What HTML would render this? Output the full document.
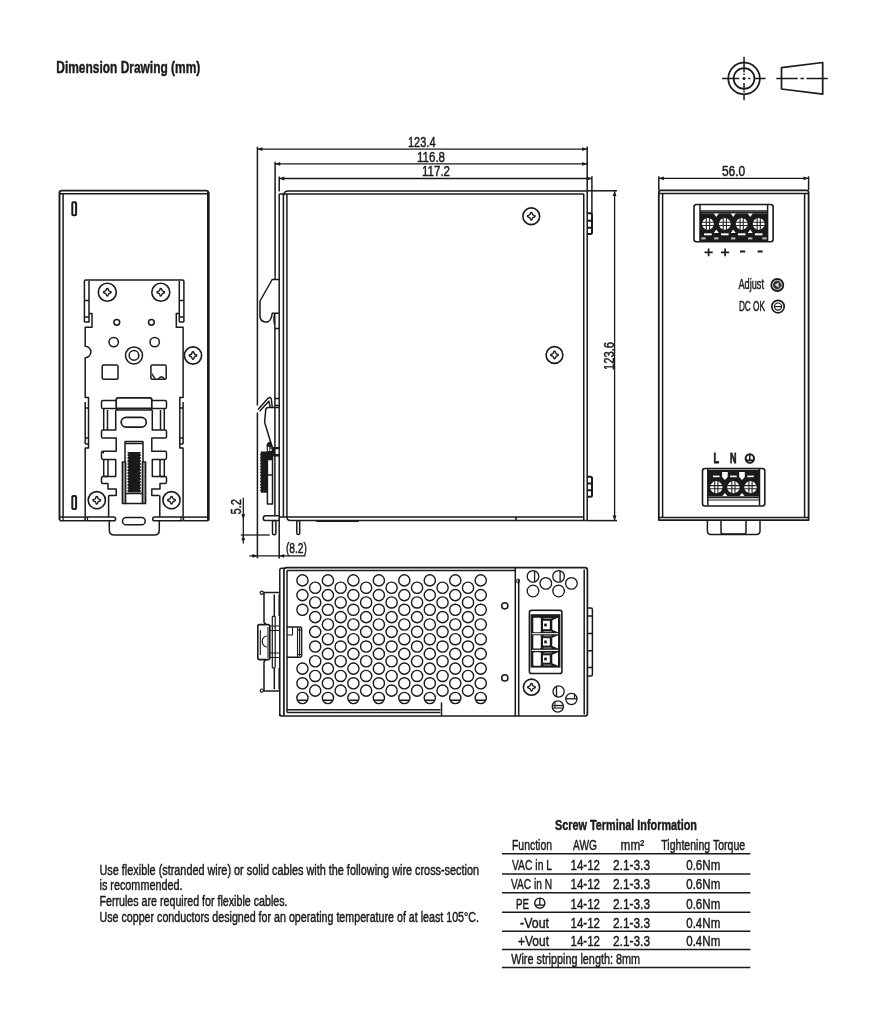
<!DOCTYPE html>
<html><head><meta charset="utf-8"><style>
html,body{margin:0;padding:0;background:#fff;}
svg{display:block;filter:grayscale(100%);}
text{font-family:"Liberation Sans",sans-serif;fill:#1a1a1a;stroke:#1a1a1a;stroke-width:0.45px;}
.f{fill:#1a1a1a;stroke:none;}
</style></head><body>
<svg width="884" height="1024" viewBox="0 0 884 1024">
<g fill="none" stroke="#1a1a1a" stroke-width="1.5" stroke-linejoin="round" stroke-linecap="butt">
<text x="56.3" y="73.1" font-size="15.8" textLength="144" lengthAdjust="spacingAndGlyphs" font-weight="bold" text-anchor="start" >Dimension Drawing (mm)</text>
<circle cx="744.05" cy="78.5" r="15.8" stroke-width="1.7"/>
<circle cx="744.05" cy="78.5" r="10.4" stroke-width="1.7"/>
<line x1="722.1" y1="78.5" x2="739.3" y2="78.5" stroke-width="1.5" />
<line x1="742.5" y1="78.5" x2="745.6" y2="78.5" stroke-width="1.6" />
<line x1="748.2" y1="78.5" x2="750.2" y2="78.5" stroke-width="1.5" />
<line x1="754.5" y1="78.5" x2="765.6" y2="78.5" stroke-width="1.5" />
<line x1="744.05" y1="56.8" x2="744.05" y2="72.3" stroke-width="1.5" />
<line x1="744.05" y1="73.5" x2="744.05" y2="75" stroke-width="1.5" />
<line x1="744.05" y1="77" x2="744.05" y2="80" stroke-width="1.6" />
<line x1="744.05" y1="83" x2="744.05" y2="89.5" stroke-width="1.5" />
<line x1="744.05" y1="90.6" x2="744.05" y2="92.5" stroke-width="1.5" />
<line x1="744.05" y1="94.5" x2="744.05" y2="100.2" stroke-width="1.5" />
<path d="M781.5 67.7 L822.7 62.5 L822.7 94.2 L781.5 89 Z" stroke-width="1.7"/>
<line x1="776.3" y1="78.5" x2="797.7" y2="78.5" stroke-width="1.5" />
<line x1="800.5" y1="78.5" x2="804" y2="78.5" stroke-width="1.5" />
<line x1="806.4" y1="78.5" x2="827.8" y2="78.5" stroke-width="1.5" />
<path d="M59.5 520 L59.5 192.8 Q59.5 190.6 61.7 190.6 L206.1 190.6 Q208.3 190.6 208.3 192.8 L208.3 520" stroke-width="1.9"/>
<line x1="208.3" y1="192" x2="208.3" y2="520.7" stroke-width="2.5" />
<line x1="59.5" y1="193.7" x2="208.3" y2="193.7" />
<line x1="63.1" y1="193.7" x2="63.1" y2="517.1" />
<line x1="59.5" y1="517.1" x2="85" y2="517.1" />
<line x1="59.5" y1="520.7" x2="85" y2="520.7" />
<line x1="183.5" y1="517.1" x2="208.3" y2="517.1" />
<line x1="183.5" y1="520.7" x2="208.3" y2="520.7" />
<rect x="85" y="517.1" width="30.6" height="3.6" rx="1.8" />
<rect x="152.7" y="517.1" width="30.8" height="3.6" rx="1.8" />
<line x1="87.5" y1="517.1" x2="87.5" y2="520.7" stroke-width="1.2" />
<line x1="181" y1="517.1" x2="181" y2="520.7" stroke-width="1.2" />
<rect x="72.3" y="202.3" width="3.8" height="12.9" rx="1" stroke-width="2"/>
<rect x="72.3" y="496" width="3.8" height="12.9" rx="1" stroke-width="2"/>
<path d="M84.4 322 L84.4 281.2 Q84.4 280 85.6 280 L182.7 280 Q183.9 280 183.9 281.2 L183.9 322" />
<path d="M84.4 322 L89 322 L89 281 M84.4 300.5 L89 300.5 M84.4 317 L89 317" />
<path d="M89 313.5 L92 313.5 L92 327.2 L85.2 327.2 L85.2 346.3 A5.7 5.7 0 0 1 85.2 357.7 L85.2 397.5 L88.5 397.5 L88.5 402 M85.2 402 L85.2 444 M88.5 402 L88.5 444 M85.2 408 L88.5 408 M85.2 438 L88.5 438 M85.2 444 L88.5 444 L88.5 448 L85.2 448 L85.2 517.1" />
<path d="M179.3 322 L183.9 322 M179.3 281 L179.3 322 M179.3 300.5 L183.9 300.5 M179.3 317 L183.9 317" />
<path d="M179.3 313.5 L176.3 313.5 L176.3 327.2 L183.1 327.2 L183.1 397.5 L179.8 397.5 L179.8 402 M183.1 402 L183.1 444 M179.8 402 L179.8 444 M183.1 408 L179.8 408 M183.1 438 L179.8 438 M183.1 444 L179.8 444 L179.8 448 L183.1 448 L183.1 517.1" />
<circle cx="107.3" cy="292.2" r="9" stroke-width="1.6"/>
<path d="M104.25 292.95 A0.75 0.75 0 0 1 104.25 291.45 Q106.3 291.2 106.55 289.15 A0.75 0.75 0 0 1 108.05 289.15 Q108.3 291.2 110.35 291.45 A0.75 0.75 0 0 1 110.35 292.95 Q108.3 293.2 108.05 295.25 A0.75 0.75 0 0 1 106.55 295.25 Q106.3 293.2 104.25 292.95 Z" stroke-width="1.4"/>
<circle cx="160.8" cy="292.2" r="9" stroke-width="1.6"/>
<path d="M157.75 292.95 A0.75 0.75 0 0 1 157.75 291.45 Q159.8 291.2 160.05 289.15 A0.75 0.75 0 0 1 161.55 289.15 Q161.8 291.2 163.85 291.45 A0.75 0.75 0 0 1 163.85 292.95 Q161.8 293.2 161.55 295.25 A0.75 0.75 0 0 1 160.05 295.25 Q159.8 293.2 157.75 292.95 Z" stroke-width="1.4"/>
<circle cx="116.8" cy="322.3" r="2.9" />
<circle cx="151.4" cy="322.3" r="2.9" />
<circle cx="113.7" cy="342.1" r="4.7" />
<circle cx="154.7" cy="342.1" r="4.7" />
<circle cx="134" cy="355.4" r="8.5" />
<circle cx="134" cy="355.4" r="4.8" />
<rect x="102.2" y="365" width="15.8" height="14.3" rx="1.5" />
<rect x="150.9" y="365" width="15.3" height="14.3" rx="1.5" />
<path d="M151.5 372 Q152 378.5 156 379 Z" class="f"/>
<path d="M158.5 379 Q161.5 374.5 164.5 379" stroke-width="1.4"/>
<circle cx="193" cy="355.5" r="8.6" stroke-width="1.6"/>
<path d="M189.95 356.25 A0.75 0.75 0 0 1 189.95 354.75 Q192 354.5 192.25 352.45 A0.75 0.75 0 0 1 193.75 352.45 Q194 354.5 196.05 354.75 A0.75 0.75 0 0 1 196.05 356.25 Q194 356.5 193.75 358.55 A0.75 0.75 0 0 1 192.25 358.55 Q192 356.5 189.95 356.25 Z" stroke-width="1.4"/>
<rect x="116.2" y="397.8" width="35.6" height="12.2" rx="2" stroke-width="1.7"/>
<line x1="117" y1="408.3" x2="151" y2="408.3" />
<path d="M116.2 400.4 L103 400.4 Q101.5 400.4 101.5 402 L101.5 407 Q101.5 408.6 103 408.6 L116.2 408.6" />
<path d="M151.8 400.4 L165 400.4 Q166.5 400.4 166.5 402 L166.5 407 Q166.5 408.6 165 408.6 L151.8 408.6" />
<path d="M103.7 408.6 L103.7 429.9 M107.5 410 L107.5 429.9 M115.7 410 L115.7 429.9" />
<path d="M164.3 408.6 L164.3 429.9 M160.5 410 L160.5 429.9 M152.3 410 L152.3 429.9" />
<path d="M116.2 429.9 L103 429.9 Q101.5 429.9 101.5 431.5 L101.5 436.5 Q101.5 438.1 103 438.1 L116.2 438.1 L116.2 451.2 L103 451.2 Q101.5 451.2 101.5 452.8 L101.5 457.8 Q101.5 459.4 103 459.4 L116.2 459.4" />
<path d="M151.8 429.9 L165 429.9 Q166.5 429.9 166.5 431.5 L166.5 436.5 Q166.5 438.1 165 438.1 L151.8 438.1 L151.8 451.2 L165 451.2 Q166.5 451.2 166.5 452.8 L166.5 457.8 Q166.5 459.4 165 459.4 L151.8 459.4" />
<path d="M103.7 459.4 L103.7 476.4 M108 459.4 L108 476.4 M115.7 459.4 L115.7 476.4 L103.7 476.4" />
<path d="M164.3 459.4 L164.3 476.4 M160 459.4 L160 476.4 M152.3 459.4 L152.3 476.4 L164.3 476.4" />
<path d="M108 476.4 L103 476.4 Q101.5 476.4 101.5 478 L101.5 482 Q101.5 483.5 103 483.5 L108 483.5 L108 489 L116.2 489 L116.2 495.5 L108.6 495.5" />
<path d="M160 476.4 L165 476.4 Q166.5 476.4 166.5 478 L166.5 482 Q166.5 483.5 165 483.5 L160 483.5 L160 489 L151.8 489 L151.8 495.5 L159.4 495.5" />
<path d="M101.8 452 L104 451.2 L104 454 Z" class="f"/>
<rect x="121.2" y="417.3" width="25.1" height="9.9" rx="4.9" stroke-width="1.7"/>
<rect x="125" y="441.6" width="18" height="62" rx="0.5" />
<line x1="125" y1="443.5" x2="143" y2="443.5" />
<rect x="122.4" y="462" width="3.2" height="41.5" rx="0" fill="#999"/>
<rect x="142.4" y="462" width="3.2" height="41.5" rx="0" fill="#999"/>
<path d="M127 452 L128.6 453.5 L127 455 L128.6 456.5 L127 458 L128.6 459.5 L127 461 L128.6 462.5 L127 464 L128.6 465.5 L127 467 L128.6 468.5 L127 470 L128.6 471.5 L127 473 L128.6 474.5 L127 476 L128.6 477.5 L127 479 L128.6 480.5 L127 482 L128.6 483.5 L127 485 L128.6 486.5 L127 488 L128.6 489.5 L127 491 L128.6 492.5 L139.7 492.5 L141.3 491 L139.7 489.5 L141.3 488 L139.7 486.5 L141.3 485 L139.7 483.5 L141.3 482 L139.7 480.5 L141.3 479 L139.7 477.5 L141.3 476 L139.7 474.5 L141.3 473 L139.7 471.5 L141.3 470 L139.7 468.5 L141.3 467 L139.7 465.5 L141.3 464 L139.7 462.5 L141.3 461 L139.7 459.5 L141.3 458 L139.7 456.5 L141.3 455 L139.7 453.5 L141.3 452 Z" class="f"/>
<line x1="125" y1="493.5" x2="143" y2="493.5" />
<circle cx="96.8" cy="500.2" r="8.6" stroke-width="1.6"/>
<path d="M93.75 500.95 A0.75 0.75 0 0 1 93.75 499.45 Q95.8 499.2 96.05 497.15 A0.75 0.75 0 0 1 97.55 497.15 Q97.8 499.2 99.85 499.45 A0.75 0.75 0 0 1 99.85 500.95 Q97.8 501.2 97.55 503.25 A0.75 0.75 0 0 1 96.05 503.25 Q95.8 501.2 93.75 500.95 Z" stroke-width="1.4"/>
<circle cx="171.5" cy="500.2" r="8.6" stroke-width="1.6"/>
<path d="M168.45 500.95 A0.75 0.75 0 0 1 168.45 499.45 Q170.5 499.2 170.75 497.15 A0.75 0.75 0 0 1 172.25 497.15 Q172.5 499.2 174.55 499.45 A0.75 0.75 0 0 1 174.55 500.95 Q172.5 501.2 172.25 503.25 A0.75 0.75 0 0 1 170.75 503.25 Q170.5 501.2 168.45 500.95 Z" stroke-width="1.4"/>
<path d="M108.6 495.5 L108.6 517.1 M109.3 520.7 L109.3 530 Q109.3 535 114.3 535 L154.3 535 Q159.3 535 159.3 530 L159.3 520.7 M159.8 495.5 L159.8 517.1" />
<rect x="122.5" y="517.6" width="22.7" height="7.2" rx="3.6" />
<line x1="63.1" y1="517.1" x2="63.1" y2="520.7" stroke-width="1.2" />
<line x1="257.4" y1="146.8" x2="257.4" y2="405.5" />
<line x1="257.4" y1="412.5" x2="257.4" y2="558.4" />
<line x1="275.1" y1="161.7" x2="275.1" y2="276.6" />
<line x1="587.2" y1="146.5" x2="587.2" y2="520.6" />
<line x1="279.2" y1="176.6" x2="279.2" y2="191.6" />
<line x1="591.9" y1="176.3" x2="591.9" y2="213.2" />
<line x1="257.4" y1="149.1" x2="587.2" y2="149.1" stroke-width="1.3" />
<path d="M257.5 149.1 L262.5 147.2 L262.5 151 Z" class="f"/>
<path d="M587.1 149.1 L582.1 151 L582.1 147.2 Z" class="f"/>
<line x1="275.1" y1="163.9" x2="587.2" y2="163.9" stroke-width="1.3" />
<path d="M275.2 163.9 L280.2 162 L280.2 165.8 Z" class="f"/>
<path d="M587.1 163.9 L582.1 165.8 L582.1 162 Z" class="f"/>
<line x1="279.2" y1="178.5" x2="591.9" y2="178.5" stroke-width="1.3" />
<path d="M279.3 178.5 L284.3 176.6 L284.3 180.4 Z" class="f"/>
<path d="M591.8 178.5 L586.8 180.4 L586.8 176.6 Z" class="f"/>
<text x="435.5" y="146.7" font-size="14" textLength="27.5" lengthAdjust="spacingAndGlyphs" text-anchor="end" >123.4</text>
<text x="445" y="161.5" font-size="14" textLength="28" lengthAdjust="spacingAndGlyphs" text-anchor="end" >116.8</text>
<text x="450" y="175.5" font-size="14" textLength="28" lengthAdjust="spacingAndGlyphs" text-anchor="end" >117.2</text>
<line x1="587.2" y1="190.8" x2="617" y2="190.8" />
<line x1="587.2" y1="520.6" x2="617" y2="520.6" />
<line x1="614.6" y1="190.8" x2="614.6" y2="520.6" stroke-width="1.3" />
<path d="M614.6 191 L616.5 196 L612.7 196 Z" class="f"/>
<path d="M614.6 520.4 L612.7 515.4 L616.5 515.4 Z" class="f"/>
<text x="0" y="0" font-size="14" textLength="28" lengthAdjust="spacingAndGlyphs" text-anchor="middle" transform="translate(613.8 356) rotate(-90)">123.6</text>
<path d="M283.5 196 Q283.5 191 288.5 191 L587.2 191" />
<line x1="279.2" y1="194" x2="583.75" y2="194" />
<line x1="279.2" y1="194" x2="279.2" y2="558.4" />
<line x1="283.4" y1="194" x2="283.4" y2="517.1" />
<line x1="286.9" y1="194" x2="286.9" y2="517.1" />
<line x1="583.75" y1="194" x2="583.75" y2="520.6" />
<line x1="279.2" y1="517.1" x2="583.75" y2="517.1" />
<path d="M286.9 517.1 Q286.9 520.6 290.4 520.6 L587.2 520.6" />
<line x1="316.3" y1="521" x2="358.8" y2="521" stroke-width="2.2" />
<line x1="516" y1="517.1" x2="516" y2="520.6" stroke-width="1.6" />
<path d="M587.2 213.2 L590.5 213.2 Q592 213.2 592 214.7 L592 232.6 Q592 234.1 590.5 234.1 L587.2 234.1 M587.2 220.7 L592 220.7 M587.2 227.7 L592 227.7" stroke-width="2"/>
<path d="M587.2 476.8 L590.5 476.8 Q592 476.8 592 478.3 L592 495.3 Q592 496.8 590.5 496.8 L587.2 496.8 M587.2 483.5 L592 483.5 M587.2 490.2 L592 490.2" stroke-width="2"/>
<circle cx="531.25" cy="216.25" r="8.4" stroke-width="1.6"/>
<path d="M528.2 217 A0.75 0.75 0 0 1 528.2 215.5 Q530.25 215.25 530.5 213.2 A0.75 0.75 0 0 1 532 213.2 Q532.25 215.25 534.3 215.5 A0.75 0.75 0 0 1 534.3 217 Q532.25 217.25 532 219.3 A0.75 0.75 0 0 1 530.5 219.3 Q530.25 217.25 528.2 217 Z" stroke-width="1.4"/>
<circle cx="554.5" cy="355" r="8.4" stroke-width="1.6"/>
<path d="M551.45 355.75 A0.75 0.75 0 0 1 551.45 354.25 Q553.5 354 553.75 351.95 A0.75 0.75 0 0 1 555.25 351.95 Q555.5 354 557.55 354.25 A0.75 0.75 0 0 1 557.55 355.75 Q555.5 356 555.25 358.05 A0.75 0.75 0 0 1 553.75 358.05 Q553.5 356 551.45 355.75 Z" stroke-width="1.4"/>
<path d="M279.2 279.5 L272.2 279.5 L260 301 L260 317 Q261 322.5 267.3 322 Q271.5 320.5 272.2 313.2 L279.2 313.2" />
<path d="M274.7 313.2 L274.9 328.4 L279.2 328.4 M274.9 313.2 Q273 318 274.9 326" />
<line x1="275.1" y1="276.6" x2="275.1" y2="279.5" />
<line x1="274.9" y1="328.4" x2="274.9" y2="515.7" />
<path d="M258 409.5 L268 398.3 Q270.3 396.5 271.3 399 L272.3 407.6 M259.6 411.2 L268.8 401.2 L270.3 407.6" />
<path d="M279 407.6 L268 407.6 Q265.6 408 265.6 411 L264.6 422.2 L271 443.2 L271 449" />
<path d="M274.9 398.5 L279.2 398.5 M274.9 405.5 L279.2 405.5" />
<path d="M272.6 448.1 L279.2 448.1 M272.6 455.3 L279.2 455.3" stroke-width="2.4"/>
<path d="M266.3 446.3 Q266.8 442 269.9 441.6 Q272.3 442.5 272.6 446.3 Z" class="f"/>
<rect x="267.3" y="446.3" width="5.1" height="5.3" rx="0" stroke-width="1.1"/>
<line x1="269.8" y1="446.3" x2="269.8" y2="451.6" stroke-width="0.9" />
<path d="M260.8 451.6 L272.6 451.6 L272.6 459.4 L267.6 459.4 L267.6 492.7 L261 492.7 Z" class="f"/>
<line x1="273.8" y1="449" x2="273.8" y2="455" stroke-width="2.2" />
<path d="M261 453 L260 454.5 L261 456 Z" class="f"/>
<path d="M261 456 L260 457.5 L261 459 Z" class="f"/>
<path d="M261 459 L260 460.5 L261 462 Z" class="f"/>
<path d="M261 462 L260 463.5 L261 465 Z" class="f"/>
<path d="M261 465 L260 466.5 L261 468 Z" class="f"/>
<path d="M261 468 L260 469.5 L261 471 Z" class="f"/>
<path d="M261 471 L260 472.5 L261 474 Z" class="f"/>
<path d="M261 474 L260 475.5 L261 477 Z" class="f"/>
<path d="M261 477 L260 478.5 L261 480 Z" class="f"/>
<path d="M261 480 L260 481.5 L261 483 Z" class="f"/>
<path d="M261 483 L260 484.5 L261 486 Z" class="f"/>
<path d="M261 486 L260 487.5 L261 489 Z" class="f"/>
<path d="M261 489 L260 490.5 L261 492 Z" class="f"/>
<rect x="267.4" y="459.5" width="5.1" height="44.5" rx="0" />
<line x1="267.4" y1="475" x2="272.5" y2="475" />
<line x1="272.5" y1="449" x2="272.5" y2="459.5" />
<path d="M265.7 515.7 L279.3 515.7 M265.7 520.6 L279.3 520.6 M265.7 515.7 A2.45 2.45 0 0 0 265.7 520.6" />
<rect x="272.5" y="520.6" width="3.4" height="14.1" rx="1.5" />
<rect x="296.8" y="520.6" width="2.9" height="14" rx="1.4" />
<line x1="243.3" y1="497.8" x2="243.3" y2="543.6" stroke-width="1.3" />
<line x1="240.8" y1="535" x2="269.8" y2="535" stroke-width="1.3" />
<path d="M243.3 519.3 L241.4 514.3 L245.2 514.3 Z" class="f"/>
<path d="M243.3 535.2 L245.2 540.2 L241.4 540.2 Z" class="f"/>
<text x="0" y="0" font-size="14" textLength="15.5" lengthAdjust="spacingAndGlyphs" text-anchor="middle" transform="translate(240.8 506.7) rotate(-90)">5.2</text>
<line x1="249.4" y1="555.9" x2="305.4" y2="555.9" stroke-width="1.3" />
<path d="M257.4 555.9 L252.4 557.8 L252.4 554 Z" class="f"/>
<path d="M279.3 555.9 L284.3 554 L284.3 557.8 Z" class="f"/>
<text x="285.9" y="553.3" font-size="14" textLength="21.1" lengthAdjust="spacingAndGlyphs" text-anchor="start" >(8.2)</text>
<line x1="658.8" y1="176.3" x2="658.8" y2="190" />
<line x1="808.6" y1="176.3" x2="808.6" y2="190" />
<line x1="658.8" y1="178.3" x2="808.6" y2="178.3" stroke-width="1.3" />
<path d="M658.9 178.3 L663.9 176.4 L663.9 180.2 Z" class="f"/>
<path d="M808.5 178.3 L803.5 180.2 L803.5 176.4 Z" class="f"/>
<text x="745.2" y="175.6" font-size="14" textLength="23.3" lengthAdjust="spacingAndGlyphs" text-anchor="end" >56.0</text>
<path d="M658.8 520.1 L658.8 192.3 Q658.8 190.3 660.8 190.3 L806.6 190.3 Q808.6 190.3 808.6 192.3 L808.6 520.1 Z" stroke-width="1.8"/>
<line x1="658.8" y1="193.4" x2="808.6" y2="193.4" />
<line x1="662.6" y1="193.4" x2="662.6" y2="517.4" />
<line x1="804.6" y1="193.4" x2="804.6" y2="517.4" />
<line x1="658.8" y1="517.4" x2="808.6" y2="517.4" />
<rect x="694" y="204.5" width="79.1" height="37.3" rx="2.5" stroke-width="1.6"/>
<line x1="700" y1="205" x2="700" y2="241.5" />
<line x1="767.6" y1="205" x2="767.6" y2="241.5" />
<line x1="700" y1="211" x2="767.6" y2="211" stroke-width="1.3" />
<line x1="700" y1="212.6" x2="767.6" y2="212.6" stroke-width="1.3" />
<rect x="700" y="213.3" width="67.6" height="27.8" rx="0" class="f"/>
<circle cx="707.9" cy="223.9" r="5.9" fill="#fff" stroke="none"/>
<path d="M702 222.3 L713.8 222.3 M702 225.5 L713.8 225.5 M706.3 218 L706.3 229.8 M709.5 218 L709.5 229.8" stroke-width="1.1" stroke="#222"/>
<rect x="704.1" y="233.3" width="7.6" height="2" rx="0" fill="#fff" stroke="none"/>
<circle cx="724.8" cy="223.9" r="5.9" fill="#fff" stroke="none"/>
<path d="M718.9 222.3 L730.7 222.3 M718.9 225.5 L730.7 225.5 M723.2 218 L723.2 229.8 M726.4 218 L726.4 229.8" stroke-width="1.1" stroke="#222"/>
<rect x="721" y="233.3" width="7.6" height="2" rx="0" fill="#fff" stroke="none"/>
<circle cx="741.7" cy="223.9" r="5.9" fill="#fff" stroke="none"/>
<path d="M735.8 222.3 L747.6 222.3 M735.8 225.5 L747.6 225.5 M740.1 218 L740.1 229.8 M743.3 218 L743.3 229.8" stroke-width="1.1" stroke="#222"/>
<rect x="737.9" y="233.3" width="7.6" height="2" rx="0" fill="#fff" stroke="none"/>
<circle cx="758.7" cy="223.9" r="5.9" fill="#fff" stroke="none"/>
<path d="M752.8 222.3 L764.6 222.3 M752.8 225.5 L764.6 225.5 M757.1 218 L757.1 229.8 M760.3 218 L760.3 229.8" stroke-width="1.1" stroke="#222"/>
<rect x="754.9" y="233.3" width="7.6" height="2" rx="0" fill="#fff" stroke="none"/>
<path d="M713.8 213.5 L718.8 213.5 L716.3 217 Z" fill="#fff" stroke="none"/>
<path d="M713.8 233 L718.8 233 L716.3 229.5 Z" fill="#fff" stroke="none"/>
<path d="M730.7 213.5 L735.7 213.5 L733.2 217 Z" fill="#fff" stroke="none"/>
<path d="M730.7 233 L735.7 233 L733.2 229.5 Z" fill="#fff" stroke="none"/>
<path d="M747.7 213.5 L752.7 213.5 L750.2 217 Z" fill="#fff" stroke="none"/>
<path d="M747.7 233 L752.7 233 L750.2 229.5 Z" fill="#fff" stroke="none"/>
<rect x="701.3" y="237.4" width="4.4" height="2" rx="0" fill="#bbb" stroke="none"/>
<rect x="714.1" y="237.4" width="4.4" height="2" rx="0" fill="#bbb" stroke="none"/>
<rect x="731" y="237.4" width="4.4" height="2" rx="0" fill="#bbb" stroke="none"/>
<rect x="748" y="237.4" width="4.4" height="2" rx="0" fill="#bbb" stroke="none"/>
<rect x="762.3" y="237.4" width="4.4" height="2" rx="0" fill="#bbb" stroke="none"/>
<path d="M704.5 252.3 L712.7 252.3 M708.6 248.4 L708.6 256.2 M721 252.3 L729.2 252.3 M725.1 248.4 L725.1 256.2" stroke-width="1.7"/>
<path d="M740 251.5 L745.2 251.5 M757.6 251.5 L762.6 251.5" stroke-width="1.8"/>
<text x="738.4" y="289" font-size="14" textLength="25.6" lengthAdjust="spacingAndGlyphs" text-anchor="start" >Adjust</text>
<text x="738.9" y="311" font-size="14" textLength="26.1" lengthAdjust="spacingAndGlyphs" text-anchor="start" >DC OK</text>
<circle cx="777.3" cy="285" r="6" stroke-width="1.8"/>
<circle cx="777.3" cy="285" r="4.4" fill="#333" stroke="none"/>
<path d="M774.6 285 L778.6 282.4 L778.6 287.6 Z" fill="#ddd" stroke="none"/>
<path d="M779.5 281.6 L781 283.2 M779.5 288.4 L781 286.8" stroke="#ddd" stroke-width="0.9"/>
<circle cx="778" cy="306.6" r="6.2" stroke-width="1.7"/>
<circle cx="778" cy="306.6" r="3.6" stroke-width="1.2"/>
<line x1="774.8" y1="306.6" x2="781.2" y2="306.6" stroke-width="1.2" />
<text x="713.4" y="462.6" font-size="14" textLength="5.6" lengthAdjust="spacingAndGlyphs" font-weight="bold" text-anchor="start" style="stroke-width:0.8px">L</text>
<text x="729.9" y="462.6" font-size="14" textLength="6.5" lengthAdjust="spacingAndGlyphs" font-weight="bold" text-anchor="start" style="stroke-width:0.8px">N</text>
<circle cx="749.8" cy="458.5" r="4.2" stroke-width="2"/>
<line x1="749.8" y1="454.5" x2="749.8" y2="460.2" stroke-width="1.5" />
<line x1="746" y1="460.2" x2="753.6" y2="460.2" stroke-width="1.5" />
<rect x="702.5" y="468.5" width="62.3" height="37.5" rx="2.5" stroke-width="1.6"/>
<line x1="707.8" y1="469" x2="707.8" y2="505.5" />
<line x1="759.5" y1="469" x2="759.5" y2="505.5" />
<rect x="707.8" y="469.7" width="51.7" height="26.9" rx="0" class="f"/>
<circle cx="716.3" cy="487.2" r="6.1" fill="#fff" stroke="none"/>
<path d="M710.2 485.6 L722.4 485.6 M710.2 488.8 L722.4 488.8 M714.7 481.1 L714.7 493.3 M717.9 481.1 L717.9 493.3" stroke-width="1.1" stroke="#222"/>
<rect x="713" y="475.6" width="6.6" height="1.6" rx="0" fill="#fff" stroke="none"/>
<circle cx="733.4" cy="487.2" r="6.1" fill="#fff" stroke="none"/>
<path d="M727.3 485.6 L739.5 485.6 M727.3 488.8 L739.5 488.8 M731.8 481.1 L731.8 493.3 M735 481.1 L735 493.3" stroke-width="1.1" stroke="#222"/>
<rect x="730.1" y="475.6" width="6.6" height="1.6" rx="0" fill="#fff" stroke="none"/>
<circle cx="750.5" cy="487.2" r="6.1" fill="#fff" stroke="none"/>
<path d="M744.4 485.6 L756.6 485.6 M744.4 488.8 L756.6 488.8 M748.9 481.1 L748.9 493.3 M752.1 481.1 L752.1 493.3" stroke-width="1.1" stroke="#222"/>
<rect x="747.2" y="475.6" width="6.6" height="1.6" rx="0" fill="#fff" stroke="none"/>
<path d="M722.1 472 L727.7 472 L727.7 477 L724.9 480 L722.1 477 Z" fill="#fff" stroke="none"/>
<path d="M722.4 496 L727.4 496 L724.9 493 Z" fill="#fff" stroke="none"/>
<path d="M739.2 472 L744.8 472 L744.8 477 L742 480 L739.2 477 Z" fill="#fff" stroke="none"/>
<path d="M739.5 496 L744.5 496 L742 493 Z" fill="#fff" stroke="none"/>
<line x1="707.8" y1="497.5" x2="759.5" y2="497.5" stroke-width="1.3" />
<line x1="707.8" y1="500" x2="759.5" y2="500" stroke-width="1.0" />
<path d="M707.4 520.1 L707.4 531 Q707.4 534.4 710.8 534.4 L756.6 534.4 Q760 534.4 760 531 L760 520.1" />
<path d="M721 520.1 L721 532 Q721 534 723 534 L744 534 Q746 534 746 532 L746 520.1" />
<path d="M279.8 716 L279.8 570 Q279.8 568.2 281.6 568.2 L283.9 568.2" />
<path d="M283.9 716 L283.9 570 Q283.9 567.6 286.8 567.6 L584.8 567.6 Q587.4 567.6 587.4 570.2 L587.4 713.4 Q587.4 716 584.8 716 L281.6 716 Q279.8 716 279.8 714.2" stroke-width="1.7"/>
<line x1="584.2" y1="569.6" x2="584.2" y2="714.5" />
<line x1="287" y1="570.6" x2="515.6" y2="570.6" />
<line x1="287" y1="570.6" x2="287" y2="712.6" />
<line x1="287" y1="709.8" x2="440.4" y2="709.8" />
<line x1="287" y1="712.6" x2="440.4" y2="712.6" />
<line x1="441.5" y1="702.4" x2="441.5" y2="716" />
<line x1="515.3" y1="567.1" x2="515.3" y2="716" />
<line x1="518.7" y1="579.2" x2="518.7" y2="716" />
<rect x="516.8" y="579.2" width="2.5" height="3.5" rx="0.5" stroke-width="1"/>
<circle cx="302.45" cy="580.4" r="5.6" stroke-width="1.4"/>
<circle cx="327.92" cy="580.4" r="5.6" stroke-width="1.4"/>
<circle cx="353.39" cy="580.4" r="5.6" stroke-width="1.4"/>
<circle cx="378.86" cy="580.4" r="5.6" stroke-width="1.4"/>
<circle cx="404.33" cy="580.4" r="5.6" stroke-width="1.4"/>
<circle cx="429.8" cy="580.4" r="5.6" stroke-width="1.4"/>
<circle cx="455.27" cy="580.4" r="5.6" stroke-width="1.4"/>
<circle cx="480.74" cy="580.4" r="5.6" stroke-width="1.4"/>
<circle cx="302.45" cy="595.1" r="5.6" stroke-width="1.4"/>
<circle cx="327.92" cy="595.1" r="5.6" stroke-width="1.4"/>
<circle cx="353.39" cy="595.1" r="5.6" stroke-width="1.4"/>
<circle cx="378.86" cy="595.1" r="5.6" stroke-width="1.4"/>
<circle cx="404.33" cy="595.1" r="5.6" stroke-width="1.4"/>
<circle cx="429.8" cy="595.1" r="5.6" stroke-width="1.4"/>
<circle cx="455.27" cy="595.1" r="5.6" stroke-width="1.4"/>
<circle cx="480.74" cy="595.1" r="5.6" stroke-width="1.4"/>
<circle cx="302.45" cy="609.8" r="5.6" stroke-width="1.4"/>
<circle cx="327.92" cy="609.8" r="5.6" stroke-width="1.4"/>
<circle cx="353.39" cy="609.8" r="5.6" stroke-width="1.4"/>
<circle cx="378.86" cy="609.8" r="5.6" stroke-width="1.4"/>
<circle cx="404.33" cy="609.8" r="5.6" stroke-width="1.4"/>
<circle cx="429.8" cy="609.8" r="5.6" stroke-width="1.4"/>
<circle cx="455.27" cy="609.8" r="5.6" stroke-width="1.4"/>
<circle cx="480.74" cy="609.8" r="5.6" stroke-width="1.4"/>
<circle cx="327.92" cy="624.5" r="5.6" stroke-width="1.4"/>
<circle cx="353.39" cy="624.5" r="5.6" stroke-width="1.4"/>
<circle cx="378.86" cy="624.5" r="5.6" stroke-width="1.4"/>
<circle cx="404.33" cy="624.5" r="5.6" stroke-width="1.4"/>
<circle cx="429.8" cy="624.5" r="5.6" stroke-width="1.4"/>
<circle cx="455.27" cy="624.5" r="5.6" stroke-width="1.4"/>
<circle cx="480.74" cy="624.5" r="5.6" stroke-width="1.4"/>
<circle cx="327.92" cy="639.2" r="5.6" stroke-width="1.4"/>
<circle cx="353.39" cy="639.2" r="5.6" stroke-width="1.4"/>
<circle cx="378.86" cy="639.2" r="5.6" stroke-width="1.4"/>
<circle cx="404.33" cy="639.2" r="5.6" stroke-width="1.4"/>
<circle cx="429.8" cy="639.2" r="5.6" stroke-width="1.4"/>
<circle cx="455.27" cy="639.2" r="5.6" stroke-width="1.4"/>
<circle cx="480.74" cy="639.2" r="5.6" stroke-width="1.4"/>
<circle cx="327.92" cy="653.9" r="5.6" stroke-width="1.4"/>
<circle cx="353.39" cy="653.9" r="5.6" stroke-width="1.4"/>
<circle cx="378.86" cy="653.9" r="5.6" stroke-width="1.4"/>
<circle cx="404.33" cy="653.9" r="5.6" stroke-width="1.4"/>
<circle cx="429.8" cy="653.9" r="5.6" stroke-width="1.4"/>
<circle cx="455.27" cy="653.9" r="5.6" stroke-width="1.4"/>
<circle cx="480.74" cy="653.9" r="5.6" stroke-width="1.4"/>
<circle cx="302.45" cy="668.6" r="5.6" stroke-width="1.4"/>
<circle cx="327.92" cy="668.6" r="5.6" stroke-width="1.4"/>
<circle cx="353.39" cy="668.6" r="5.6" stroke-width="1.4"/>
<circle cx="378.86" cy="668.6" r="5.6" stroke-width="1.4"/>
<circle cx="404.33" cy="668.6" r="5.6" stroke-width="1.4"/>
<circle cx="429.8" cy="668.6" r="5.6" stroke-width="1.4"/>
<circle cx="455.27" cy="668.6" r="5.6" stroke-width="1.4"/>
<circle cx="480.74" cy="668.6" r="5.6" stroke-width="1.4"/>
<circle cx="302.45" cy="683.3" r="5.6" stroke-width="1.4"/>
<circle cx="327.92" cy="683.3" r="5.6" stroke-width="1.4"/>
<circle cx="353.39" cy="683.3" r="5.6" stroke-width="1.4"/>
<circle cx="378.86" cy="683.3" r="5.6" stroke-width="1.4"/>
<circle cx="404.33" cy="683.3" r="5.6" stroke-width="1.4"/>
<circle cx="429.8" cy="683.3" r="5.6" stroke-width="1.4"/>
<circle cx="455.27" cy="683.3" r="5.6" stroke-width="1.4"/>
<circle cx="480.74" cy="683.3" r="5.6" stroke-width="1.4"/>
<circle cx="302.45" cy="698" r="5.6" stroke-width="1.4"/>
<line x1="297.35" y1="700.3" x2="307.55" y2="700.3" stroke-width="1.6" />
<circle cx="327.92" cy="698" r="5.6" stroke-width="1.4"/>
<line x1="322.82" y1="700.3" x2="333.02" y2="700.3" stroke-width="1.6" />
<circle cx="353.39" cy="698" r="5.6" stroke-width="1.4"/>
<line x1="348.29" y1="700.3" x2="358.49" y2="700.3" stroke-width="1.6" />
<circle cx="378.86" cy="698" r="5.6" stroke-width="1.4"/>
<line x1="373.76" y1="700.3" x2="383.96" y2="700.3" stroke-width="1.6" />
<circle cx="404.33" cy="698" r="5.6" stroke-width="1.4"/>
<line x1="399.23" y1="700.3" x2="409.43" y2="700.3" stroke-width="1.6" />
<circle cx="429.8" cy="698" r="5.6" stroke-width="1.4"/>
<line x1="424.7" y1="700.3" x2="434.9" y2="700.3" stroke-width="1.6" />
<circle cx="455.27" cy="698" r="5.6" stroke-width="1.4"/>
<line x1="450.17" y1="700.3" x2="460.37" y2="700.3" stroke-width="1.6" />
<circle cx="480.74" cy="698" r="5.6" stroke-width="1.4"/>
<line x1="475.64" y1="700.3" x2="485.84" y2="700.3" stroke-width="1.6" />
<circle cx="315.2" cy="587.75" r="5.6" stroke-width="1.4"/>
<circle cx="340.67" cy="587.75" r="5.6" stroke-width="1.4"/>
<circle cx="366.14" cy="587.75" r="5.6" stroke-width="1.4"/>
<circle cx="391.61" cy="587.75" r="5.6" stroke-width="1.4"/>
<circle cx="417.08" cy="587.75" r="5.6" stroke-width="1.4"/>
<circle cx="442.55" cy="587.75" r="5.6" stroke-width="1.4"/>
<circle cx="468.02" cy="587.75" r="5.6" stroke-width="1.4"/>
<circle cx="315.2" cy="602.45" r="5.6" stroke-width="1.4"/>
<circle cx="340.67" cy="602.45" r="5.6" stroke-width="1.4"/>
<circle cx="366.14" cy="602.45" r="5.6" stroke-width="1.4"/>
<circle cx="391.61" cy="602.45" r="5.6" stroke-width="1.4"/>
<circle cx="417.08" cy="602.45" r="5.6" stroke-width="1.4"/>
<circle cx="442.55" cy="602.45" r="5.6" stroke-width="1.4"/>
<circle cx="468.02" cy="602.45" r="5.6" stroke-width="1.4"/>
<circle cx="315.2" cy="617.15" r="5.6" stroke-width="1.4"/>
<circle cx="340.67" cy="617.15" r="5.6" stroke-width="1.4"/>
<circle cx="366.14" cy="617.15" r="5.6" stroke-width="1.4"/>
<circle cx="391.61" cy="617.15" r="5.6" stroke-width="1.4"/>
<circle cx="417.08" cy="617.15" r="5.6" stroke-width="1.4"/>
<circle cx="442.55" cy="617.15" r="5.6" stroke-width="1.4"/>
<circle cx="468.02" cy="617.15" r="5.6" stroke-width="1.4"/>
<circle cx="315.2" cy="631.85" r="5.6" stroke-width="1.4"/>
<circle cx="340.67" cy="631.85" r="5.6" stroke-width="1.4"/>
<circle cx="366.14" cy="631.85" r="5.6" stroke-width="1.4"/>
<circle cx="391.61" cy="631.85" r="5.6" stroke-width="1.4"/>
<circle cx="417.08" cy="631.85" r="5.6" stroke-width="1.4"/>
<circle cx="442.55" cy="631.85" r="5.6" stroke-width="1.4"/>
<circle cx="468.02" cy="631.85" r="5.6" stroke-width="1.4"/>
<circle cx="315.2" cy="646.55" r="5.6" stroke-width="1.4"/>
<circle cx="340.67" cy="646.55" r="5.6" stroke-width="1.4"/>
<circle cx="366.14" cy="646.55" r="5.6" stroke-width="1.4"/>
<circle cx="391.61" cy="646.55" r="5.6" stroke-width="1.4"/>
<circle cx="417.08" cy="646.55" r="5.6" stroke-width="1.4"/>
<circle cx="442.55" cy="646.55" r="5.6" stroke-width="1.4"/>
<circle cx="468.02" cy="646.55" r="5.6" stroke-width="1.4"/>
<circle cx="315.2" cy="661.25" r="5.6" stroke-width="1.4"/>
<circle cx="340.67" cy="661.25" r="5.6" stroke-width="1.4"/>
<circle cx="366.14" cy="661.25" r="5.6" stroke-width="1.4"/>
<circle cx="391.61" cy="661.25" r="5.6" stroke-width="1.4"/>
<circle cx="417.08" cy="661.25" r="5.6" stroke-width="1.4"/>
<circle cx="442.55" cy="661.25" r="5.6" stroke-width="1.4"/>
<circle cx="468.02" cy="661.25" r="5.6" stroke-width="1.4"/>
<circle cx="315.2" cy="675.95" r="5.6" stroke-width="1.4"/>
<circle cx="340.67" cy="675.95" r="5.6" stroke-width="1.4"/>
<circle cx="366.14" cy="675.95" r="5.6" stroke-width="1.4"/>
<circle cx="391.61" cy="675.95" r="5.6" stroke-width="1.4"/>
<circle cx="417.08" cy="675.95" r="5.6" stroke-width="1.4"/>
<circle cx="442.55" cy="675.95" r="5.6" stroke-width="1.4"/>
<circle cx="468.02" cy="675.95" r="5.6" stroke-width="1.4"/>
<circle cx="315.2" cy="690.65" r="5.6" stroke-width="1.4"/>
<circle cx="340.67" cy="690.65" r="5.6" stroke-width="1.4"/>
<circle cx="366.14" cy="690.65" r="5.6" stroke-width="1.4"/>
<circle cx="391.61" cy="690.65" r="5.6" stroke-width="1.4"/>
<circle cx="417.08" cy="690.65" r="5.6" stroke-width="1.4"/>
<circle cx="442.55" cy="690.65" r="5.6" stroke-width="1.4"/>
<circle cx="468.02" cy="690.65" r="5.6" stroke-width="1.4"/>
<circle cx="504.8" cy="605.8" r="3.1" />
<circle cx="504.8" cy="677.9" r="3.1" />
<rect x="529.4" y="610.4" width="32.5" height="63" rx="2" stroke-width="1.6"/>
<rect x="530.6" y="614.2" width="29.8" height="53.4" rx="0" class="f"/>
<rect x="533.3" y="617.8" width="7.5" height="14.4" rx="0.8" fill="#fff" stroke="none"/>
<rect x="543" y="620.8" width="6.8" height="8.4" rx="0" fill="#fff" stroke="none"/>
<rect x="544.2" y="623.6" width="2.6" height="2.8" rx="0" class="f"/>
<path d="M552.3 620.3 L558 617.8 L558 632.2 L552.3 629.7 Z" fill="#fff" stroke="none"/>
<rect x="543.5" y="617.9" width="8" height="1.1" rx="0" fill="#888" stroke="none"/>
<rect x="543.5" y="631" width="8" height="1.1" rx="0" fill="#888" stroke="none"/>
<rect x="533.3" y="635.2" width="7.5" height="13.4" rx="0.8" fill="#fff" stroke="none"/>
<rect x="543" y="638.2" width="6.8" height="7.4" rx="0" fill="#fff" stroke="none"/>
<rect x="544.2" y="640.5" width="2.6" height="2.8" rx="0" class="f"/>
<path d="M552.3 637.7 L558 635.2 L558 648.6 L552.3 646.1 Z" fill="#fff" stroke="none"/>
<rect x="543.5" y="635.3" width="8" height="1.1" rx="0" fill="#888" stroke="none"/>
<rect x="543.5" y="647.4" width="8" height="1.1" rx="0" fill="#888" stroke="none"/>
<rect x="533.3" y="652.3" width="7.5" height="13.4" rx="0.8" fill="#fff" stroke="none"/>
<rect x="543" y="655.3" width="6.8" height="7.4" rx="0" fill="#fff" stroke="none"/>
<rect x="544.2" y="657.6" width="2.6" height="2.8" rx="0" class="f"/>
<path d="M552.3 654.8 L558 652.3 L558 665.7 L552.3 663.2 Z" fill="#fff" stroke="none"/>
<rect x="543.5" y="652.4" width="8" height="1.1" rx="0" fill="#888" stroke="none"/>
<rect x="543.5" y="664.5" width="8" height="1.1" rx="0" fill="#888" stroke="none"/>
<rect x="531.8" y="633.1" width="26.2" height="1.2" rx="0" fill="#eee" stroke="none"/>
<rect x="531.8" y="649.8" width="26.2" height="1.2" rx="0" fill="#eee" stroke="none"/>
<rect x="531.3" y="611.4" width="27.5" height="2.2" rx="0.5" fill="#fff" stroke="none"/>
<rect x="531.3" y="668.2" width="28.5" height="4.2" rx="0.5" fill="#fff" stroke="none"/>
<circle cx="531.5" cy="687.2" r="8.1" stroke-width="1.6"/>
<path d="M528.45 687.95 A0.75 0.75 0 0 1 528.45 686.45 Q530.5 686.2 530.75 684.15 A0.75 0.75 0 0 1 532.25 684.15 Q532.5 686.2 534.55 686.45 A0.75 0.75 0 0 1 534.55 687.95 Q532.5 688.2 532.25 690.25 A0.75 0.75 0 0 1 530.75 690.25 Q530.5 688.2 528.45 687.95 Z" stroke-width="1.4"/>
<circle cx="533" cy="576.4" r="5.8" stroke-width="1.3"/>
<circle cx="558.6" cy="576.4" r="5.8" stroke-width="1.3"/>
<circle cx="533" cy="591" r="5.8" stroke-width="1.3"/>
<circle cx="558.6" cy="591" r="5.8" stroke-width="1.3"/>
<circle cx="545.8" cy="583.4" r="5.8" stroke-width="1.3"/>
<circle cx="571.4" cy="583.4" r="5.8" stroke-width="1.3"/>
<line x1="534.6" y1="571" x2="534.6" y2="581.8" stroke-width="1.3" />
<line x1="560.1" y1="571" x2="560.1" y2="581.8" stroke-width="1.3" />
<circle cx="558.6" cy="691.5" r="5.6" stroke-width="1.3"/>
<circle cx="571.4" cy="699" r="5.6" stroke-width="1.3"/>
<circle cx="557.8" cy="706.5" r="5.6" stroke-width="1.3"/>
<line x1="556.5" y1="685.9" x2="556.5" y2="697.1" stroke-width="1.3" />
<line x1="565.8" y1="698.8" x2="577" y2="698.8" stroke-width="1.3" />
<line x1="574.5" y1="693.5" x2="574.5" y2="698.8" stroke-width="1.1" />
<line x1="552.2" y1="705.5" x2="563.4" y2="705.5" stroke-width="1.3" />
<line x1="552.2" y1="708" x2="563.4" y2="708" stroke-width="1.1" />
<line x1="555" y1="701" x2="555" y2="708" stroke-width="1" />
<path d="M587.4 607.9 L590.9 607.9 Q592.4 607.9 592.4 609.4 L592.4 674.5 Q592.4 676 590.9 676 L587.4 676" />
<path d="M587.4 616 L592.4 616 M587.4 633.4 L592.4 633.4 M587.4 650.8 L592.4 650.8 M587.4 667.5 L592.4 667.5" stroke-width="1.5"/>
<path d="M279.8 592.5 L263.5 592.5 M264 592.5 L264 622 Q264.5 623.6 266.2 624 M274.3 594.5 L274.3 616 M279.2 594.5 L279.2 616" />
<circle cx="261.8" cy="592.8" r="1.6" stroke-width="1.2"/>
<path d="M279.8 691 L263.5 691 M264 691 L264 662 Q264.5 660.3 266.2 660 M274.3 689.3 L274.3 668 M279.2 689.3 L279.2 668" />
<circle cx="261.8" cy="690.6" r="1.6" stroke-width="1.2"/>
<rect x="257.8" y="624.6" width="12" height="35" rx="1.8" stroke-width="1.6"/>
<path d="M260.3 630 L260.3 655 M268 627 L268 658" stroke-width="1.1"/>
<path d="M267 636 A4.8 5.5 0 0 0 267 647" stroke-width="1.2"/>
<rect x="272.3" y="616.4" width="2.9" height="51.4" rx="0.5" stroke-width="1.2"/>
<path d="M269.3 626 L279.2 626 M269.3 630.5 L279.2 630.5 M269.3 653 L279.2 653 M269.3 657.5 L279.2 657.5" stroke-width="1.1"/>
<path d="M287 626.9 L299.8 626.9 Q301.6 626.9 301.6 628.6 L301.6 655.6 Q301.6 657.3 299.8 657.3 L287 657.3" />
<path d="M287 635 L292.5 635 L292.5 626.9 M297.5 627.5 L297.5 657 M299.5 628 L299.5 656" stroke-width="1.1"/>
<path d="M297.2 630 L301.6 630 M297.2 654.5 L301.6 654.5" stroke-width="1.1"/>
<text x="99.5" y="874.5" font-size="14" textLength="379.5" lengthAdjust="spacingAndGlyphs" text-anchor="start" >Use flexible (stranded wire) or solid cables with the following wire cross-section</text>
<text x="99.5" y="890" font-size="14" textLength="83" lengthAdjust="spacingAndGlyphs" text-anchor="start" >is recommended.</text>
<text x="99.5" y="906.25" font-size="14" textLength="188" lengthAdjust="spacingAndGlyphs" text-anchor="start" >Ferrules are required for flexible cables.</text>
<text x="99.5" y="922" font-size="14" textLength="379.5" lengthAdjust="spacingAndGlyphs" text-anchor="start" >Use copper conductors designed for an operating temperature of at least 105°C.</text>
<text x="555" y="829.5" font-size="15" textLength="142" lengthAdjust="spacingAndGlyphs" font-weight="bold" text-anchor="start" >Screw Terminal Information</text>
<text x="512" y="850" font-size="14.5" textLength="40" lengthAdjust="spacingAndGlyphs" text-anchor="start" >Function</text>
<text x="573" y="850" font-size="14.5" textLength="24" lengthAdjust="spacingAndGlyphs" text-anchor="start" >AWG</text>
<text x="620.6" y="850" font-size="14.5" textLength="23.5" lengthAdjust="spacingAndGlyphs" text-anchor="start" >mm²</text>
<text x="661.25" y="850" font-size="14.5" textLength="84" lengthAdjust="spacingAndGlyphs" text-anchor="start" >Tightening Torque</text>
<line x1="502" y1="853.75" x2="750.4" y2="853.75" stroke-width="1.4" />
<line x1="502" y1="874" x2="750.4" y2="874" stroke-width="1.4" />
<line x1="502" y1="892.75" x2="750.4" y2="892.75" stroke-width="1.4" />
<line x1="502" y1="912.25" x2="750.4" y2="912.25" stroke-width="1.4" />
<line x1="502" y1="931.25" x2="750.4" y2="931.25" stroke-width="1.4" />
<line x1="502" y1="949.5" x2="750.4" y2="949.5" stroke-width="1.4" />
<line x1="502" y1="967.5" x2="750.4" y2="967.5" stroke-width="1.4" />
<text x="512" y="870" font-size="14.5" textLength="40" lengthAdjust="spacingAndGlyphs" text-anchor="start" >VAC in L</text>
<text x="570.5" y="870" font-size="14.5" textLength="29.5" lengthAdjust="spacingAndGlyphs" text-anchor="start" >14-12</text>
<text x="613" y="870" font-size="14.5" textLength="37" lengthAdjust="spacingAndGlyphs" text-anchor="start" >2.1-3.3</text>
<text x="686.25" y="870" font-size="14.5" textLength="34" lengthAdjust="spacingAndGlyphs" text-anchor="start" >0.6Nm</text>
<text x="511" y="889" font-size="14.5" textLength="41" lengthAdjust="spacingAndGlyphs" text-anchor="start" >VAC in N</text>
<text x="570.5" y="889" font-size="14.5" textLength="29.5" lengthAdjust="spacingAndGlyphs" text-anchor="start" >14-12</text>
<text x="613" y="889" font-size="14.5" textLength="37" lengthAdjust="spacingAndGlyphs" text-anchor="start" >2.1-3.3</text>
<text x="686.25" y="889" font-size="14.5" textLength="34" lengthAdjust="spacingAndGlyphs" text-anchor="start" >0.6Nm</text>
<text x="516" y="908.5" font-size="14.5" textLength="13" lengthAdjust="spacingAndGlyphs" text-anchor="start" >PE</text>
<circle cx="539.8" cy="903.2" r="5.1" stroke-width="1.4"/>
<line x1="539.8" y1="898.1" x2="539.8" y2="905.1" stroke-width="1.3" />
<line x1="535.4" y1="905.1" x2="544.2" y2="905.1" stroke-width="1.3" />
<text x="570.5" y="908.5" font-size="14.5" textLength="29.5" lengthAdjust="spacingAndGlyphs" text-anchor="start" >14-12</text>
<text x="613" y="908.5" font-size="14.5" textLength="37" lengthAdjust="spacingAndGlyphs" text-anchor="start" >2.1-3.3</text>
<text x="686.25" y="908.5" font-size="14.5" textLength="34" lengthAdjust="spacingAndGlyphs" text-anchor="start" >0.6Nm</text>
<text x="520" y="927.5" font-size="14.5" textLength="29" lengthAdjust="spacingAndGlyphs" text-anchor="start" >-Vout</text>
<text x="570.5" y="927.5" font-size="14.5" textLength="29.5" lengthAdjust="spacingAndGlyphs" text-anchor="start" >14-12</text>
<text x="613" y="927.5" font-size="14.5" textLength="37" lengthAdjust="spacingAndGlyphs" text-anchor="start" >2.1-3.3</text>
<text x="686.25" y="927.5" font-size="14.5" textLength="34" lengthAdjust="spacingAndGlyphs" text-anchor="start" >0.4Nm</text>
<text x="518" y="946" font-size="14.5" textLength="31" lengthAdjust="spacingAndGlyphs" text-anchor="start" >+Vout</text>
<text x="570.5" y="946" font-size="14.5" textLength="29.5" lengthAdjust="spacingAndGlyphs" text-anchor="start" >14-12</text>
<text x="613" y="946" font-size="14.5" textLength="37" lengthAdjust="spacingAndGlyphs" text-anchor="start" >2.1-3.3</text>
<text x="686.25" y="946" font-size="14.5" textLength="34" lengthAdjust="spacingAndGlyphs" text-anchor="start" >0.4Nm</text>
<text x="511.25" y="964" font-size="14.5" textLength="128.75" lengthAdjust="spacingAndGlyphs" text-anchor="start" >Wire stripping length: 8mm</text>
</g></svg></body></html>
